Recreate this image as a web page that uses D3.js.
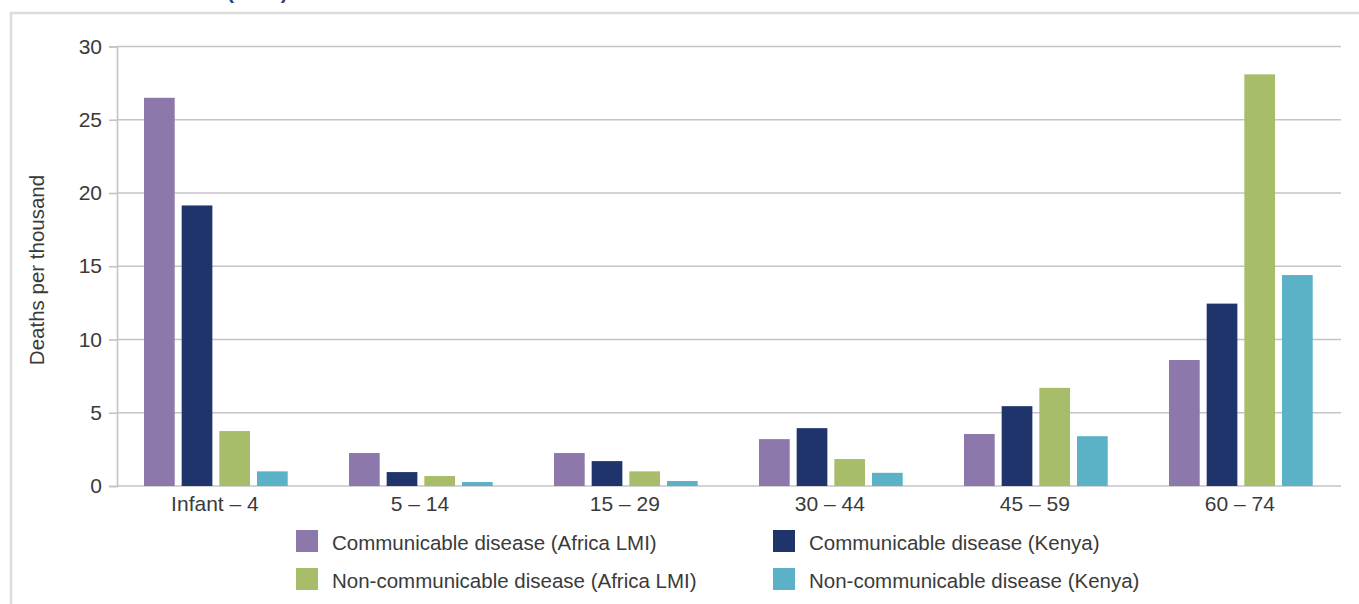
<!DOCTYPE html>
<html>
<head>
<meta charset="utf-8">
<script src="https://cdn.jsdelivr.net/npm/d3@7"></script>
<style>
  html, body { margin: 0; padding: 0; background: #fff; }
  svg { display: block; font-family: "Liberation Sans", Arial, sans-serif; }
</style>
</head>
<body>
<svg id="chart" width="1359" height="604"></svg>
<script>
// ---- data ----
const categories = ["Infant \u2013 4", "5 \u2013 14", "15 \u2013 29", "30 \u2013 44", "45 \u2013 59", "60 \u2013 74"];
const seriesNames = [
  "Communicable disease (Africa LMI)",
  "Communicable disease (Kenya)",
  "Non-communicable disease (Africa LMI)",
  "Non-communicable disease (Kenya)"
];
const communicableAfrica    = [26.5, 2.25, 2.25, 3.2, 3.55, 8.6];
const communicableKenya     = [19.15, 0.95, 1.7, 3.95, 5.45, 12.45];
const nonCommunicableAfrica = [3.75, 0.68, 1.0, 1.84, 6.7, 28.1];
const nonCommunicableKenya  = [1.0, 0.27, 0.34, 0.9, 3.4, 14.4];
const yTicks = [0, 5, 10, 15, 20, 25, 30];
const yLabel = "Deaths per thousand";
const titleFragment = "(2012)";

const seriesValues = [communicableAfrica, communicableKenya, nonCommunicableAfrica, nonCommunicableKenya];
const colors = ["#8c78aa", "#1f346b", "#a8bd6a", "#5bb1c6"];

const svg = d3.select("#chart");

// frame
svg.append("path")
  .attr("d", "M11,604 V13 H1359")
  .attr("fill", "none").attr("stroke", "#dcdcdc").attr("stroke-width", 2.5);

// title fragment (cut off at the top edge, as in the source)
svg.append("text")
  .attr("x", 227).attr("y", -0.8)
  .attr("font-size", 21).attr("font-weight", "bold")
  .attr("fill", "#2b3f86")
  .text(titleFragment);

// scales
const y = d3.scaleLinear().domain([0, 30]).range([486, 46.5]);
const x0 = d3.scaleBand().domain(categories).range([113.4, 1343.4]).paddingInner(0).paddingOuter(0);
const x1 = d3.scaleBand().domain(d3.range(4)).range([30.6, 174.3]).paddingInner(0.185).paddingOuter(0);

const gridColor = "#c4c4c8";

// gridlines
svg.append("g").selectAll("line").data(yTicks).join("line")
  .attr("x1", 117).attr("x2", 1341)
  .attr("y1", d => y(d)).attr("y2", d => y(d))
  .attr("stroke", gridColor).attr("stroke-width", 1.6);

// y axis
const yAxis = d3.axisLeft(y).tickValues(yTicks).tickSize(8).tickPadding(7).tickFormat(d3.format("d"));
const yg = svg.append("g").attr("transform", "translate(117,0)").call(yAxis);
yg.select(".domain").attr("stroke", gridColor).attr("stroke-width", 1.6);
yg.selectAll(".tick line").attr("stroke", gridColor).attr("stroke-width", 1.6);
yg.selectAll(".tick text")
  .attr("font-size", 21).attr("fill", "#3a3a3a")
  .attr("font-family", "Liberation Sans, Arial, sans-serif");

// y label
svg.append("text")
  .attr("transform", "translate(44,270) rotate(-90)")
  .attr("text-anchor", "middle")
  .attr("font-size", 20.5).attr("fill", "#3a3a3a")
  .text(yLabel);

// bars
const groups = svg.append("g").selectAll("g").data(categories).join("g")
  .attr("transform", d => `translate(${x0(d)},0)`);
groups.selectAll("rect")
  .data((c, i) => seriesValues.map((vals, s) => ({ s, v: vals[i] })))
  .join("rect")
  .attr("x", d => x1(d.s))
  .attr("width", x1.bandwidth())
  .attr("y", d => y(d.v))
  .attr("height", d => y(0) - y(d.v))
  .attr("fill", d => colors[d.s]);

// x axis labels
const xAxis = d3.axisBottom(x0).tickSize(0).tickPadding(0);
const xg = svg.append("g").attr("transform", "translate(0,486)").call(xAxis);
xg.select(".domain").remove();
xg.selectAll(".tick text")
  .attr("dy", null).attr("y", 25)
  .attr("transform", "translate(-1,0)")
  .attr("font-size", 21).attr("fill", "#3a3a3a")
  .attr("font-family", "Liberation Sans, Arial, sans-serif");

// legend
const legendPos = [[296, 530], [773, 530], [296, 568], [773, 568]];
const lg = svg.append("g").selectAll("g").data(seriesNames).join("g")
  .attr("transform", (d, i) => `translate(${legendPos[i][0]},${legendPos[i][1]})`);
lg.append("rect").attr("width", 22).attr("height", 22).attr("fill", (d, i) => colors[i]);
lg.append("text").attr("x", 36).attr("y", 20)
  .attr("font-size", 20.5).attr("fill", "#3a3a3a")
  .text(d => d);
</script>
</body>
</html>
